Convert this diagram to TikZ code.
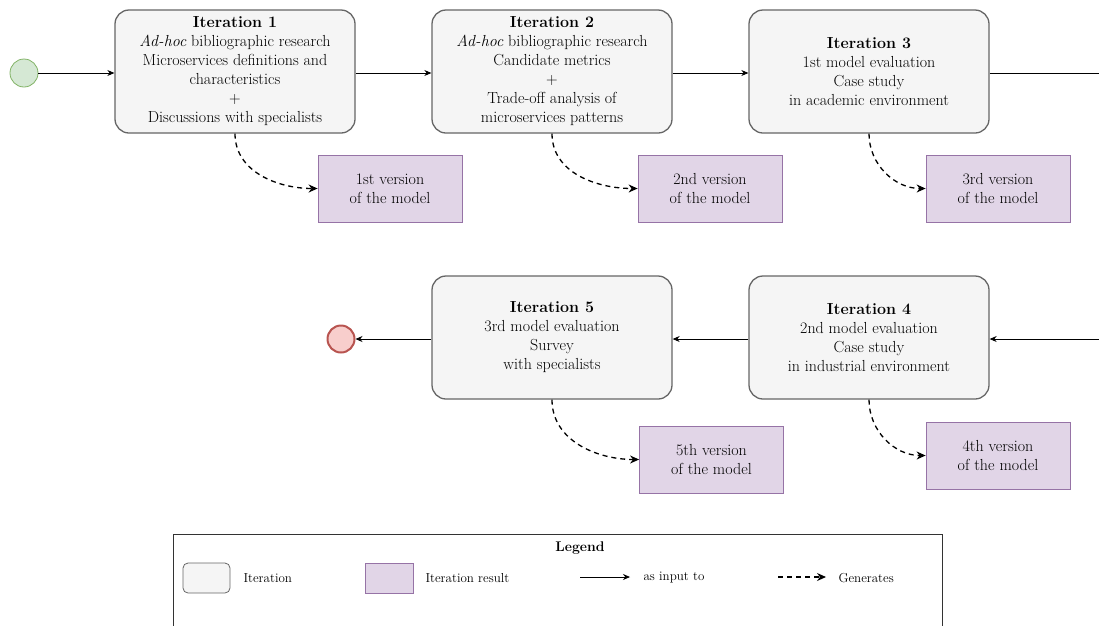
\documentclass[tikz,border=0pt]{standalone}
\usetikzlibrary{arrows.meta}
\definecolor{itfill}{HTML}{F5F5F5}
\definecolor{itdraw}{HTML}{666666}
\definecolor{resfill}{HTML}{E1D5E7}
\definecolor{resdraw}{HTML}{9673A6}
\definecolor{startfill}{HTML}{D5E8D4}
\definecolor{startdraw}{HTML}{82B366}
\definecolor{endfill}{HTML}{F8CECC}
\definecolor{enddraw}{HTML}{B85450}
\definecolor{legdraw}{HTML}{333333}
\begin{document}
\begin{tikzpicture}[x=1pt,y=-1pt,
  iter/.style={draw=itdraw, fill=itfill, line width=1.3pt, rounded corners=14pt,
    minimum width=240pt, minimum height=123pt, align=center, inner sep=2pt,
    font=\fontsize{16}{19}\selectfont},
  result/.style={draw=resdraw, fill=resfill, line width=0.8pt,
    minimum width=144pt, minimum height=67pt, align=center,
    font=\fontsize{16}{19}\selectfont},
  flow/.style={line width=0.8pt, -{Stealth[length=7pt,width=6pt]}},
  gen/.style={line width=1.3pt, dash pattern=on 5pt off 4pt, -{Stealth[length=9pt,width=8pt]}},
  legtext/.style={anchor=west, font=\fontsize{13}{15}\selectfont},
]
\clip (0,0) rectangle (1099,625);

% start and end events
\node (start) [circle, draw=startdraw, fill=startfill, line width=0.8pt, minimum size=28pt, inner sep=0pt] at (24,73) {};
\node (stop) [circle, draw=enddraw, fill=endfill, line width=2pt, minimum size=27pt, inner sep=0pt] at (341,339) {};

% iterations
\node (it1) [iter] at (235,71.5) {\textbf{Iteration 1}\\\textit{Ad-hoc} bibliographic research\\Microservices definitions and\\characteristics\\+\\Discussions with specialists};
\node (it2) [iter] at (552,71.5) {\textbf{Iteration 2}\\\textit{Ad-hoc} bibliographic research\\Candidate metrics\\+\\Trade-off analysis of\\microservices patterns};
\node (it3) [iter] at (869,71.5) {\textbf{Iteration 3}\\1st model evaluation\\Case study\\in academic environment};
\node (it5) [iter] at (552,337.5) {\textbf{Iteration 5}\\3rd model evaluation\\Survey\\with specialists};
\node (it4) [iter] at (869,337.5) {\textbf{Iteration 4}\\2nd model evaluation\\Case study\\in industrial environment};

% results
\node (res1) [result] at (390,188.5) {1st version\\of the model};
\node (res2) [result] at (710,188.5) {2nd version\\of the model};
\node (res3) [result] at (998,188.5) {3rd version\\of the model};
\node (res5) [result] at (711.5,459.5) {5th version\\of the model};
\node (res4) [result] at (998,455.5) {4th version\\of the model};

% flow between iterations
\coordinate (r1) at (1099,73);
\coordinate (r2) at (1099,339);
\draw[flow] (start) -- (it1.west |- start);
\draw[flow] (it1.east |- start) -- (it2.west |- start);
\draw[flow] (it2.east |- start) -- (it3.west |- start);
\draw[line width=0.8pt] (it3.east |- r1) -- (r1);
\draw[flow] (r2) -- (it4.east |- r2);
\draw[flow] (it4.west |- r2) -- (it5.east |- r2);
\draw[flow] (it5.west |- stop) -- (stop);

% generated results
\draw[gen] (it1.south) to[out=-90,in=180] (res1.west);
\draw[gen] (it2.south) to[out=-90,in=180] (res2.west);
\draw[gen] (it3.south) to[out=-90,in=180] (res3.west);
\draw[gen] (it5.south) to[out=-90,in=180] (res5.west);
\draw[gen] (it4.south) to[out=-90,in=180] (res4.west);

% legend
\node (legend) [draw=legdraw, line width=0.8pt, minimum width=769pt, minimum height=120pt, anchor=north west, inner sep=0pt] at (173,534) {};
\node (legtitle) [font=\fontsize{14}{16}\selectfont\bfseries] at (580,548) {Legend};
\node (kit) [draw=itdraw, fill=itfill, line width=0.8pt, rounded corners=5pt, minimum width=47pt, minimum height=30pt] at (206.5,578) {};
\node (kittext) [legtext] at (240,578) {Iteration};
\node (kres) [draw=resdraw, fill=resfill, line width=0.8pt, minimum width=48pt, minimum height=30pt] at (389,578) {};
\node (krestext) [legtext] at (422,578) {Iteration result};
\coordinate (ka1) at (580,577);
\coordinate (ka2) at (630,577);
\draw[flow] (ka1) -- (ka2);
\node (katext) [legtext] at (640,578) {as input to};
\coordinate (kd1) at (778,577);
\coordinate (kd2) at (826,577);
\draw[gen, line width=1.1pt] (kd1) -- (kd2);
\node (kdtext) [legtext] at (835,578) {Generates};
\end{tikzpicture}
\end{document}
